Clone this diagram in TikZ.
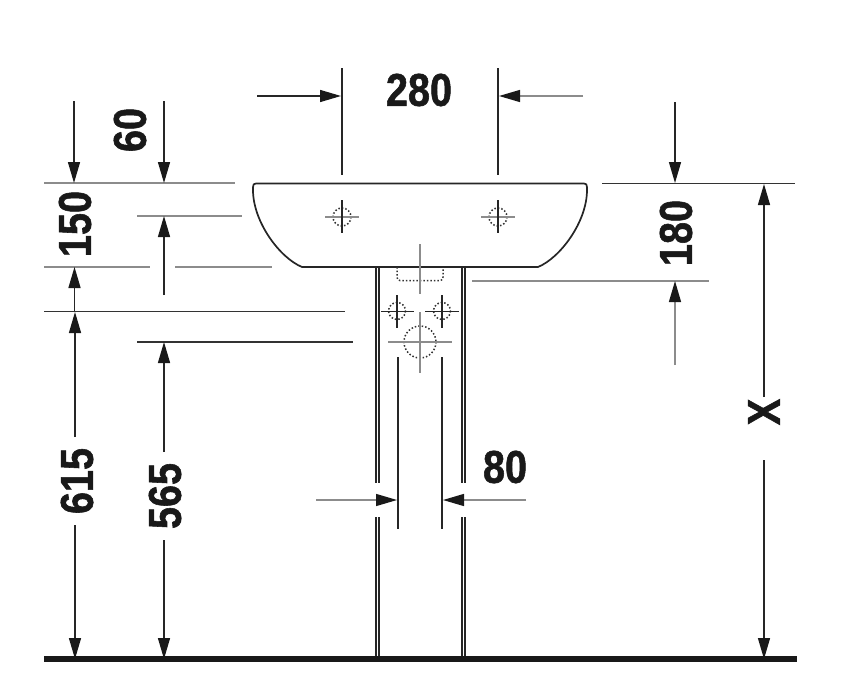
\documentclass[tikz,border=0pt]{standalone}
\usepackage{fontspec}
\newfontfamily\dimfont[FakeStretch=0.86,BoldFeatures={FakeBold=1.2}]{Liberation Sans}
\usetikzlibrary{arrows.meta}
\tikzstyle{ob}=[draw=black!85, line width=1.7pt]
\tikzstyle{lt}=[draw=black!45, line width=1.3pt]
\tikzstyle{dk}=[draw=black!80, line width=1.9pt]
\tikzstyle{ht}=[draw=black!80, line width=1.5pt, dash pattern=on 1.5pt off 2pt]
\tikzstyle{ar}=[draw=black!85, line width=1.4pt, -{Triangle[length=21pt,width=12pt,black!90]}]
\tikzstyle{ag}=[draw=black!45, line width=1.3pt, -{Triangle[length=21pt,width=12pt,black!90]}]
\tikzstyle{dm}=[font=\dimfont\bfseries\fontsize{46}{46}\selectfont, text=black!90, inner sep=0pt]

\begin{document}
\begin{tikzpicture}[x=1pt, y=-1pt]

\useasboundingbox (0,0) rectangle (852,691);

% basin
\draw[ob] (302,267) .. controls (280,258) and (253,222) .. (253,190) -- (253,187) .. controls (253,184.5) and (254,183.5) .. (256,183.5) -- (584,183.5) .. controls (586,183.5) and (587,184.5) .. (587,187) -- (587,190) .. controls (587,222) and (560,258) .. (538,267) -- cycle;

% pedestal
\draw[ob] (376,267)--(376,483);
\draw[ob] (379,267)--(379,483);
\draw[ob] (462,267)--(462,483);
\draw[ob] (465,267)--(465,483);
\draw[ob] (376,517)--(376,657);
\draw[ob] (379,517)--(379,657);
\draw[ob] (462,517)--(462,657);
\draw[ob] (465,517)--(465,657);
\draw[ob] (398,357)--(398,529);
\draw[ob] (442,357)--(442,529);

% floor
\draw[draw=black!90, line width=6pt] (44,659)--(797,659);

% tap holes
\draw[ht] (342,217) circle (9);
\draw[lt] (325,217)--(359,217);
\draw[ob] (342,200)--(342,233);
\draw[ht] (498,217) circle (9);
\draw[lt] (481,217)--(515,217);
\draw[ob] (498,200)--(498,233);

% waste
\draw[ht] (397,267)--(397,277) .. controls (397,279.5) and (398,280.5) .. (400,280.5) -- (440,280.5) .. controls (442,280.5) and (443,279.5) .. (443,277) -- (443,267);
\draw[lt] (420,244)--(420,294);
\draw[ht] (397,311) circle (8.5);
\draw[ob] (381,311.5)--(414,311.5);
\draw[ob] (397,295)--(397,328);
\draw[ht] (442,311) circle (8.5);
\draw[ob] (425,311.5)--(459,311.5);
\draw[ob] (442,295)--(442,328);
\draw[ht] (420,342) circle (16);
\draw[lt] (388,342)--(452,342);
\draw[lt] (420,312)--(420,373);

% extension lines
\draw[ob] (342,68)--(342,175);
\draw[ob] (498,68)--(498,175);
\draw[lt] (44,183)--(235,183);
\draw[lt] (137,216)--(242,216);
\draw[lt] (44,267)--(150,267);
\draw[lt] (175,267)--(272,267);
\draw[dk] (44,311.5)--(345,311.5);
\draw[dk] (137,342)--(353,342);
\draw[dk] (602,183.5)--(795,183.5);
\draw[lt] (472,281)--(709,281);

% arrows
\draw[ar] (257,96)--(341,96);
\draw[ag] (583,96)--(499,96);
\draw[ar] (74,101)--(74,183);
\draw[ar] (164,101)--(164,183);
\draw[ar] (164,295)--(164,216);
\draw[ar] (74.5,311)--(74.5,267);
\draw[ar] (75,437)--(75,312);
\draw[ar] (75,525)--(75,659);
\draw[ar] (164,452)--(164,342);
\draw[ar] (164,540)--(164,659);
\draw[ar] (675,102)--(675,183);
\draw[ag] (675,365)--(675,281);
\draw[ar] (764,397)--(764,184);
\draw[ar] (764,460)--(764,659);
\draw[ag] (316,500)--(397,500);
\draw[ag] (526,500)--(443,500);

% labels
\node[dm] (dimtop) at (419,90) {280};
\node[dm, rotate=90] (dimsixty) at (130,130) {60};
\node[dm, rotate=90] (dimupper) at (75,224) {150};
\node[dm, rotate=90] (dimbowl) at (676,233) {180};
\node[dm, rotate=90] (dimrim) at (77,481) {615};
\node[dm, rotate=90] (dimbase) at (165,496) {565};
\node[dm] (dimwidth) at (505,467) {80};
\node[dm, rotate=90] (dimx) at (764,412) {X};

\end{tikzpicture}
\end{document}
